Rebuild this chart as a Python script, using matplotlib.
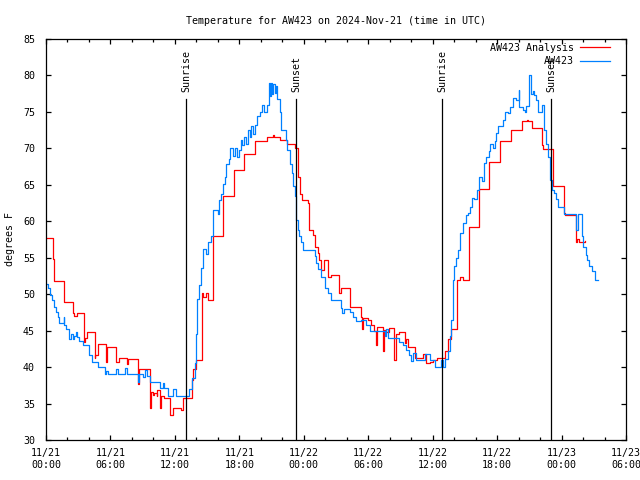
import matplotlib
matplotlib.use("Agg")
import matplotlib.pyplot as plt
from matplotlib.ticker import MultipleLocator, FixedLocator

plt.rcParams['font.family'] = ['DejaVu Sans Mono', 'DejaVu Sans']

# hours since 2024-11-21 00:00 UTC
obs_t = [0.0, 0.15, 0.33, 0.6, 0.73, 0.9, 1.1, 1.19, 1.56, 1.63, 1.7, 1.9, 2.12, 2.35, 2.5, 2.65, 2.8, 2.93,
         3.1, 3.43, 3.98, 4.24, 4.82, 5.45, 5.6, 5.75, 6.28, 6.5, 6.66, 7.4, 7.52, 8.55, 8.7, 9.0, 9.26, 9.4,
         9.64, 10.57, 10.85, 11.0, 11.34, 11.8, 12.12, 13.36, 13.61, 13.83, 13.92, 14.04, 14.23, 14.45, 14.66,
         14.91, 15.06, 15.38, 15.53, 16.0, 16.09, 16.31, 16.46, 16.62, 16.78, 17.02, 17.15, 17.4, 17.55, 17.8,
         18.0, 18.17, 18.29, 18.45, 18.64, 18.79, 18.95, 19.1, 19.25, 19.45, 19.63, 19.88, 20.13, 20.34, 20.56,
         20.74, 20.85, 20.97, 21.08, 21.18, 21.3, 21.43, 21.55, 21.74, 21.9, 22.3, 22.42, 22.73, 22.92, 23.04,
         23.14, 23.23, 23.29, 23.44, 23.6, 23.76, 23.97, 24.84, 25.0, 25.16, 25.3, 25.62, 25.93, 26.24, 26.55,
         27.48, 27.6, 27.79, 28.26, 28.56, 28.88, 29.35, 29.81, 30.12, 31.05, 31.52, 31.7, 31.82, 32.91, 33.22,
         33.56, 33.84, 33.95, 34.15, 34.47, 35.24, 35.71, 36.18, 36.79, 37.0, 37.19, 37.41, 37.57, 37.73, 37.87,
         38.03, 38.19, 38.4, 38.59, 38.8, 39.06, 39.27, 39.49, 39.68, 39.89, 40.11, 40.29, 40.36, 40.61, 40.82,
         40.98, 41.23, 41.38, 41.6, 41.76, 41.91, 42.06, 42.38, 42.53, 42.78, 42.99, 43.22, 43.46, 43.78, 44.02,
         44.08, 44.39, 44.55, 44.71, 45.01, 45.17, 45.32, 45.48, 45.64, 45.79, 46.2, 46.32, 46.41, 46.57, 46.72,
         46.88, 46.97, 47.13, 47.34, 47.5, 47.65, 48.27, 49.36, 49.51, 49.92, 50.04, 50.23, 50.35, 50.6, 50.85,
         51.07, 51.37]
obs_v = [51.4, 50.8, 49.9, 49.2, 48.3, 47.6, 46.9, 46.0, 46.0, 46.9, 45.8, 45.2, 43.9, 44.6, 43.9, 44.2, 44.8, 44.1,
         43.6, 43.0, 41.7, 40.7, 40.0, 39.1, 39.5, 39.1, 39.1, 39.8, 39.1, 39.9, 39.1, 38.0, 39.1, 38.7, 39.6, 38.8,
         38.0, 37.1, 37.8, 37.1, 36.0, 37.0, 36.0, 37.0, 38.5, 40.5, 44.6, 49.3, 51.2, 53.6, 56.2,
         55.5, 57.1, 58.0, 61.6, 61.0, 62.9, 63.8, 65.1, 66.1, 67.9, 68.6, 70.0, 69.0, 70.0, 68.8,
         69.8, 71.2, 70.5, 71.6, 70.6, 72.5, 71.5, 73.0, 72.0, 73.2, 74.4, 75.0, 75.9, 75.0, 76.0,
         79.0, 77.2, 78.9, 77.5, 78.8, 77.6, 78.6, 76.8, 75.0, 72.5, 71.1, 69.8, 67.9, 66.6, 64.8,
         63.4, 61.6, 60.2, 58.8, 58.0, 57.1, 56.1, 56.1, 55.2, 54.3, 53.5, 52.4, 50.8, 50.1, 49.2,
         48.1, 47.4, 47.9, 47.6, 46.9, 46.3, 46.5, 45.8, 44.9, 44.9, 44.3, 45.2, 43.95, 43.5, 43.0,
         42.3, 41.6, 40.8, 42.0, 41.0, 41.8, 41.0, 40.05, 41.0, 40.05, 41.1, 42.2, 44.2, 46.5, 51.9,
         53.8, 54.9, 56.1, 58.35, 59.7, 60.8, 61.1, 62.0, 63.15, 63.0, 64.3, 65.0, 66.1, 65.5, 67.95,
         68.8, 69.6, 70.6, 70.0, 71.0, 72.1, 73.0, 73.0, 73.9, 75.0, 74.8, 75.7, 76.9, 76.7, 78.0,
         75.7, 75.2, 75.0, 75.8, 80.1, 77.5, 77.8, 77.3, 76.6, 75.0, 75.9, 75.6, 72.5, 70.6, 68.8,
         67.0, 65.6, 64.3, 63.9, 63.0, 62.0, 61.0, 58.8, 61.0, 58.0, 56.5, 55.4, 54.7, 53.9, 53.2,
         52.0, 52.0]

ana_t = [0.0, 0.63, 0.76, 1.66, 2.5, 2.65, 2.84, 3.52, 3.6, 3.8, 4.54, 4.6, 4.82, 5.6, 5.68, 6.54, 6.75, 7.52,
         7.63, 8.55, 8.69, 9.64, 9.78, 9.92, 10.1, 10.29, 10.38, 10.57, 10.73, 11.03, 11.5, 11.87, 12.59, 12.71,
         13.61, 13.73, 13.92, 14.51, 14.66, 14.85, 15.06, 15.53, 16.52, 17.46, 18.48, 19.5, 20.56, 21.09,
         21.27, 21.74, 22.42, 23.14, 23.44, 23.67, 23.85, 24.37, 24.47, 24.84, 25.09, 25.28, 25.46, 25.62,
         25.84, 26.3, 26.58, 27.3, 27.48, 28.32, 29.35, 29.44, 29.56, 29.96, 30.3, 30.58, 30.72, 30.86,
         31.33, 31.47, 31.67, 31.98, 32.44, 32.58, 32.91, 33.38, 33.56, 33.68, 34.37, 35.08, 35.42, 35.71,
         35.99, 36.36, 37.19, 37.41, 37.73, 38.31, 38.59, 38.78, 39.36, 40.29, 41.29, 42.29, 43.31, 44.33,
         44.78, 44.92, 45.26, 46.16, 46.25, 47.18, 48.21, 48.34, 49.36, 49.48, 49.62, 50.2]
ana_v = [57.7, 54.8, 51.85, 48.9, 47.4, 47.0, 47.4, 43.5, 43.95, 44.8, 41.3, 41.65, 43.2, 40.7, 42.7, 40.7, 41.2, 40.4,
         41.1, 37.7, 39.7, 34.35, 36.6, 36.2, 36.4, 36.0, 36.9, 34.4, 36.0, 35.7, 33.4, 34.4, 34.1, 35.7,
         38.2, 39.8, 41.0, 50.1, 49.6, 50.2, 49.2, 58.0, 63.4, 67.0, 69.2, 71.0, 71.6, 71.9,
         71.6, 71.1, 70.6, 70.0, 66.1, 63.8, 62.9, 62.5, 58.8, 58.1, 56.5, 55.6, 54.7, 53.3,
         54.7, 52.4, 52.6, 50.1, 50.8, 48.3, 46.9, 45.2, 46.7, 46.5, 45.8, 44.9, 43.0, 45.5,
         42.2, 45.1, 44.8, 45.3, 41.0, 44.6, 44.8, 43.3, 43.9, 42.8, 41.2, 41.8, 40.5, 40.7,
         41.0, 41.2, 42.2, 43.8, 45.2, 52.0, 52.4, 51.9, 59.2, 64.4, 68.1, 71.05, 72.5, 73.7,
         73.9, 73.7, 72.75, 70.5, 69.9, 64.8, 61.2, 60.9, 57.2, 57.5, 57.2, 57.35]

sun_events = [13.02, 23.26, 36.85, 47.03]
sun_labels = ['Sunrise', 'Sunset', 'Sunrise', 'Sunset']

xtick_pos = [0, 6, 12, 18, 24, 30, 36, 42, 48, 54]
xtick_lbl = ['11/21\n00:00', '11/21\n06:00', '11/21\n12:00', '11/21\n18:00', '11/22\n00:00',
             '11/22\n06:00', '11/22\n12:00', '11/22\n18:00', '11/23\n00:00', '11/23\n06:00']

FS = 7.2

fig = plt.figure(figsize=(6.4, 4.8), dpi=100)
ax = fig.add_axes([46/640, 40/480, 580/640, 401/480])

ax.plot(ana_t, ana_v, drawstyle='steps-post', color='#ff0000', lw=0.9, label='AW423 Analysis')
ax.plot(obs_t, obs_v, drawstyle='steps-post', color='#0080ff', lw=0.9, label='AW423')

ymax_frac = (440 - 99) / 401
for t, lab in zip(sun_events, sun_labels):
    ax.axvline(t, ymin=0, ymax=ymax_frac, color='black', lw=0.9)
    ax.text(t + 0.05, 77.7, lab, rotation=90, ha='center', va='bottom', fontsize=FS)

ax.set_xlim(0, 54)
ax.set_ylim(30, 85)
ax.xaxis.set_major_locator(FixedLocator(xtick_pos))
ax.set_xticklabels(xtick_lbl)
ax.xaxis.set_minor_locator(MultipleLocator(2))
ax.yaxis.set_major_locator(MultipleLocator(5))
ax.tick_params(which='both', direction='in', top=True, right=True, labelsize=FS)
ax.tick_params(which='major', length=3.5, width=0.9)
ax.tick_params(which='minor', length=2, width=0.9)
ax.tick_params(axis='x', pad=6)
ax.tick_params(axis='y', pad=8)
for s in ax.spines.values():
    s.set_linewidth(0.9)

ax.set_ylabel('degrees F', fontsize=FS, labelpad=6)
ax.set_title('Temperature for AW423 on 2024-Nov-21 (time in UTC)', fontsize=FS, pad=11)

leg = ax.legend(loc='upper right', bbox_to_anchor=((610 - 46) / 580, (440 - 43) / 401),
                frameon=False, markerfirst=False, fontsize=FS,
                handlelength=3.0, borderaxespad=0, borderpad=0, labelspacing=0.35, handletextpad=0.6)
for t in leg.get_texts():
    t.set_ha('right')

fig.savefig('out.png', dpi=100)
